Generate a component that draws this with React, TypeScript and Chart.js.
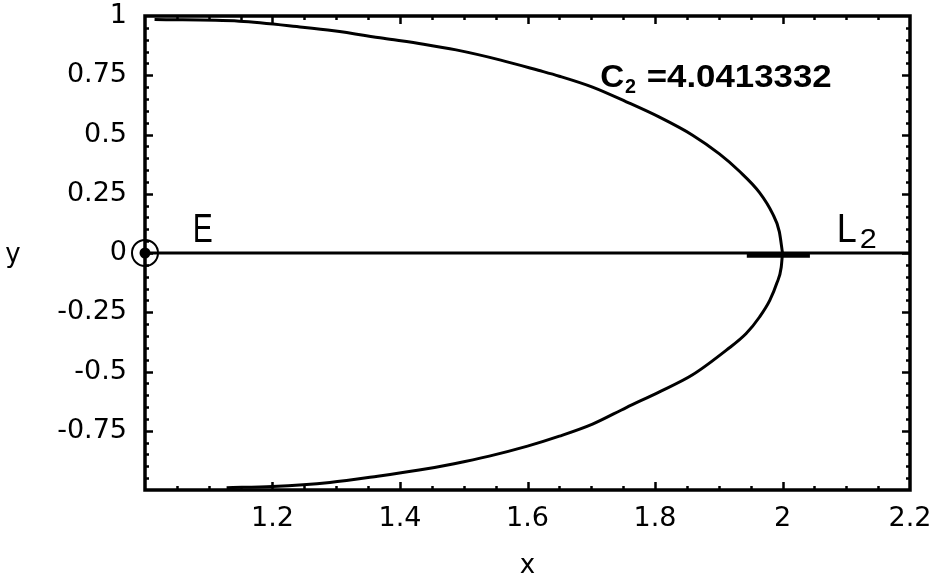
import React, { useEffect, useRef } from 'react';
import { Chart, registerables } from 'chart.js';

Chart.register(...registerables);

// ---- data ----
const upperX = [1.015, 1.148, 1.247, 1.296, 1.374, 1.437, 1.488, 1.558, 1.617, 1.65, 1.702, 1.755, 1.807, 1.859, 1.901, 1.932, 1.964, 1.984, 1.995, 2.0];
const upperY = [0.985, 0.978, 0.953, 0.938, 0.906, 0.881, 0.857, 0.814, 0.771, 0.746, 0.70, 0.638, 0.573, 0.497, 0.418, 0.346, 0.255, 0.168, 0.09, 0];
const lowerX = [1.128, 1.2, 1.29, 1.365, 1.43, 1.485, 1.54, 1.6, 1.65, 1.702, 1.755, 1.807, 1.859, 1.912, 1.943, 1.964, 1.98, 1.991, 1.998, 2.0];
const lowerY = [-0.99, -0.985, -0.968, -0.942, -0.916, -0.889, -0.857, -0.815, -0.773, -0.722, -0.652, -0.586, -0.514, -0.41, -0.34, -0.27, -0.2, -0.128, -0.06, 0];
const axisLineX = [1.0, 2.2];
const axisLineY = [0, 0];
const l2SegX = [1.944, 2.043];
const l2SegY = [-0.01, -0.01];
const pointEX = [1.0];
const pointEY = [0];

const xRange = [1.0, 2.2];
const yRange = [-1, 1];
const xMajorTicks = [1.2, 1.4, 1.6, 1.8, 2, 2.2];
const yMajorTicks = [1, 0.75, 0.5, 0.25, 0, -0.25, -0.5, -0.75];
const xTitle = 'x';
const yTitle = 'y';
const labelE = 'E';
const labelL = 'L';
const labelSub = '2';
const labelC = 'C';
const labelCValue = '=4.0413332';

const zip = (xs: number[], ys: number[]) => xs.map((x, i) => ({ x, y: ys[i] }));
const isIn = (arr: number[], v: number) => arr.some((m) => Math.abs(m - v) < 1e-6);

function fitText(ctx: CanvasRenderingContext2D, text: string, font: string, left: number, baseline: number, width: number) {
  ctx.save();
  ctx.font = font;
  const w = ctx.measureText(text).width;
  ctx.translate(left, baseline);
  ctx.scale(width / w, 1);
  ctx.textAlign = 'left';
  ctx.textBaseline = 'alphabetic';
  ctx.fillStyle = '#000';
  ctx.fillText(text, 0, 0);
  ctx.restore();
}

const framePlugin = {
  id: 'framePlugin',
  beforeDatasetsDraw(chart: any) {
    const { ctx, chartArea } = chart;
    const xs = chart.scales.x;
    const ys = chart.scales.y;
    const { left, right, top, bottom } = chartArea;
    ctx.save();
    ctx.strokeStyle = '#000';
    ctx.lineWidth = 2.5;
    ctx.beginPath();
    xs.ticks.forEach((t: any) => {
      const v = t.value;
      if (Math.abs(v - xRange[0]) < 1e-6 || Math.abs(v - xRange[1]) < 1e-6) return;
      const px = Math.round(xs.getPixelForValue(v)) + 0.5;
      const len = isIn(xMajorTicks, v) ? 8 : 4;
      ctx.moveTo(px, bottom);
      ctx.lineTo(px, bottom - len);
      ctx.moveTo(px, top);
      ctx.lineTo(px, top + len);
    });
    ys.ticks.forEach((t: any) => {
      const v = t.value;
      if (Math.abs(v - yRange[0]) < 1e-6 || Math.abs(v - yRange[1]) < 1e-6) return;
      const py = Math.round(ys.getPixelForValue(v)) + 0.5;
      const len = isIn(yMajorTicks, v) ? 8 : 4;
      ctx.moveTo(left, py);
      ctx.lineTo(left + len, py);
      ctx.moveTo(right, py);
      ctx.lineTo(right - len, py);
    });
    ctx.stroke();
    ctx.lineWidth = 3.5;
    ctx.strokeRect(left, top, right - left, bottom - top);
    ctx.restore();
  },
  afterDraw(chart: any) {
    const { ctx, chartArea } = chart;
    const xs = chart.scales.x;
    const ys = chart.scales.y;
    const X = (v: number) => xs.getPixelForValue(v);
    const Y = (v: number) => ys.getPixelForValue(v);
    ctx.save();
    ctx.fillStyle = '#000';
    ctx.font = '26px "DejaVu Sans", sans-serif';
    ctx.textAlign = 'center';
    ctx.textBaseline = 'alphabetic';
    ctx.fillText(yTitle, 13, Y(0) + 9);
    ctx.fillText(xTitle, (chartArea.left + chartArea.right) / 2, 573);
    ctx.restore();
    fitText(ctx, labelE, '40px "Liberation Sans", Arial, sans-serif', X(1.075), Y(0.045), 20);
    fitText(ctx, labelL, '40px "Liberation Sans", Arial, sans-serif', X(2.085), Y(0.045), 20);
    fitText(ctx, labelSub, '28px "Liberation Sans", Arial, sans-serif', X(2.121), Y(0.02), 17);
    fitText(ctx, labelC, 'bold 31px "Liberation Sans", Arial, sans-serif', X(1.714), Y(0.70), 24);
    fitText(ctx, labelSub, 'bold 21px "Liberation Sans", Arial, sans-serif', X(1.753), Y(0.674), 11);
    fitText(ctx, labelCValue, 'bold 31px "Liberation Sans", Arial, sans-serif', X(1.787), Y(0.70), 185);
  },
};

export default function App() {
  const ref = useRef<HTMLCanvasElement | null>(null);
  useEffect(() => {
    if (!ref.current) return;
    const black = '#000';
    const chart = new Chart(ref.current, {
      type: 'scatter',
      data: {
        datasets: [
          { data: zip(axisLineX, axisLineY), showLine: true, borderColor: black, borderWidth: 3, pointRadius: 0, clip: false } as any,
          { data: zip(l2SegX, l2SegY), showLine: true, borderColor: black, borderWidth: 5, pointRadius: 0, clip: false } as any,
          { data: zip(upperX, upperY), showLine: true, borderColor: black, borderWidth: 3, pointRadius: 0, cubicInterpolationMode: 'monotone', clip: false } as any,
          { data: zip(lowerX, lowerY), showLine: true, borderColor: black, borderWidth: 3, pointRadius: 0, cubicInterpolationMode: 'monotone', clip: false } as any,
          { data: zip(pointEX, pointEY), showLine: false, pointRadius: 13, pointBorderWidth: 2, pointBorderColor: black, pointBackgroundColor: 'rgba(0,0,0,0)', clip: false } as any,
          { data: zip(pointEX, pointEY), showLine: false, pointRadius: 5.5, pointBorderWidth: 0, pointBackgroundColor: black, clip: false } as any,
        ],
      },
      options: {
        animation: false,
        responsive: false,
        devicePixelRatio: 1,
        layout: { padding: { top: 16, right: 38, left: 0, bottom: 0 } },
        plugins: { legend: { display: false }, tooltip: { enabled: false } },
        events: [],
        scales: {
          x: {
            type: 'linear',
            min: xRange[0],
            max: xRange[1],
            grid: { display: false, drawTicks: false, tickLength: 0 },
            border: { display: false },
            ticks: {
              stepSize: 0.05,
              autoSkip: false,
              maxRotation: 0,
              padding: 13,
              color: black,
              font: { family: '"DejaVu Sans", sans-serif', size: 27 },
              callback: (v: any) => (isIn(xMajorTicks, Number(v)) ? String(Math.round(Number(v) * 100) / 100) : ''),
            },
            afterFit: (s: any) => { s.height = 94; s.paddingLeft = 0; s.paddingRight = 0; },
          },
          y: {
            type: 'linear',
            min: yRange[0],
            max: yRange[1],
            grid: { display: false, drawTicks: false, tickLength: 0 },
            border: { display: false },
            ticks: {
              stepSize: 0.05,
              autoSkip: false,
              padding: 18,
              color: black,
              font: { family: '"DejaVu Sans", sans-serif', size: 27 },
              callback: (v: any) => (isIn(yMajorTicks, Number(v)) ? String(Math.round(Number(v) * 100) / 100) : ''),
            },
            afterFit: (s: any) => { s.width = 145; s.paddingTop = 0; s.paddingBottom = 0; },
          },
        },
      } as any,
      plugins: [framePlugin],
    });
    return () => chart.destroy();
  }, []);
  return (
    <div style={{ position: 'absolute', left: 0, top: 0, width: 948, height: 584, background: '#fff' }}>
      <canvas ref={ref} width={948} height={584} />
    </div>
  );
}
